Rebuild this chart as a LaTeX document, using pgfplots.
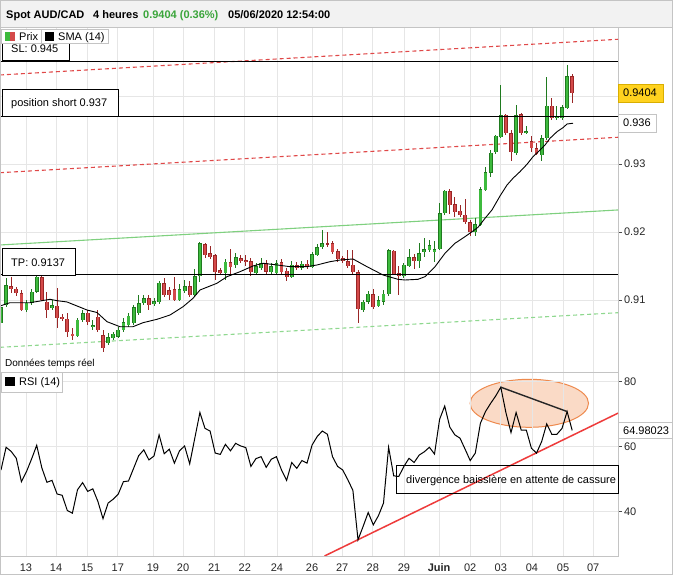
\documentclass[border=0pt]{standalone}
\usepackage{pgfplots}
\pgfplotsset{compat=1.18}
\usepackage{pgfplotstable}
\usepackage{fontspec}
\setmainfont{Liberation Sans}
\definecolor{gfill}{HTML}{3DBA3D}
\definecolor{gline}{HTML}{1F7A1F}
\definecolor{rfill}{HTML}{D44A4A}
\definecolor{rline}{HTML}{992626}
\definecolor{gridc}{HTML}{E6E6E6}
\definecolor{framec}{HTML}{C4C4C4}
\definecolor{hdr}{HTML}{F2F2F2}
\definecolor{tred}{HTML}{E04848}
\definecolor{tgreen}{HTML}{7FD07F}
\definecolor{ttgreen}{HTML}{8FD88F}
\definecolor{supred}{HTML}{EE3B3B}
\definecolor{elfill}{HTML}{FAD6C0}
\definecolor{elline}{HTML}{EE8A4E}
\definecolor{titlegreen}{HTML}{3AA53A}
\definecolor{yel}{HTML}{FFD21F}
\definecolor{yelline}{HTML}{D9AE00}

% i open high low close
\pgfplotstableread{
i o h l c
0 0.90662 0.90926 0.90632 0.90897
1 0.90926 0.91324 0.90897 0.91221
5 0.90853 0.91000 0.90824 0.90956
6 0.90956 0.91162 0.90926 0.91118
7 0.91118 0.91368 0.91103 0.91338
10 0.90882 0.91000 0.90853 0.90926
15 0.90471 0.90735 0.90456 0.90706
16 0.90706 0.90853 0.90676 0.90809
18 0.90603 0.90706 0.90559 0.90632
21 0.90368 0.90515 0.90338 0.90456
22 0.90441 0.90529 0.90412 0.90500
23 0.90456 0.90603 0.90441 0.90559
24 0.90559 0.90735 0.90529 0.90676
25 0.90632 0.90809 0.90603 0.90765
26 0.90662 0.90926 0.90632 0.90897
27 0.90809 0.91074 0.90779 0.90956
28 0.90956 0.91074 0.90926 0.91029
30 0.90941 0.91029 0.90912 0.90985
31 0.90971 0.91279 0.90941 0.91250
35 0.91000 0.91235 0.90985 0.91162
36 0.91132 0.91294 0.91103 0.91206
38 0.91074 0.91456 0.91059 0.91353
39 0.91353 0.91853 0.91265 0.91838
44 0.91397 0.91603 0.91294 0.91559
46 0.91515 0.91691 0.91471 0.91632
50 0.91397 0.91544 0.91382 0.91500
51 0.91471 0.91618 0.91441 0.91544
53 0.91412 0.91544 0.91382 0.91500
54 0.91397 0.91588 0.91368 0.91544
57 0.91338 0.91574 0.91324 0.91515
59 0.91471 0.91574 0.91441 0.91529
61 0.91485 0.91706 0.91471 0.91676
62 0.91662 0.91824 0.91647 0.91779
63 0.91779 0.92029 0.91750 0.91838
71 0.90853 0.91000 0.90824 0.90971
72 0.90971 0.91132 0.90941 0.91088
74 0.90912 0.91059 0.90897 0.91000
75 0.90971 0.91147 0.90926 0.91088
76 0.91088 0.91750 0.91059 0.91735
79 0.91353 0.91544 0.91324 0.91515
80 0.91500 0.91750 0.91485 0.91632
82 0.91574 0.91838 0.91471 0.91691
83 0.91706 0.91912 0.91632 0.91750
84 0.91735 0.91882 0.91706 0.91809
85 0.91706 0.91868 0.91559 0.91750
86 0.91750 0.92426 0.91735 0.92279
87 0.92279 0.92618 0.92250 0.92603
93 0.92000 0.92206 0.91941 0.92118
94 0.92103 0.92662 0.92088 0.92632
95 0.92618 0.92956 0.92603 0.92882
96 0.92868 0.93206 0.92809 0.93162
97 0.93176 0.93426 0.93147 0.93412
98 0.93397 0.94162 0.93382 0.93721
101 0.93162 0.93868 0.93132 0.93721
103 0.93456 0.93559 0.93441 0.93485
106 0.93132 0.93426 0.93044 0.93382
107 0.93382 0.94279 0.93353 0.93853
109 0.93676 0.93853 0.93647 0.93706
110 0.93676 0.93868 0.93647 0.93838
111 0.93824 0.94456 0.93809 0.94294
}\greencandles

\pgfplotstableread{
i o h l c
2 0.91206 0.91338 0.91103 0.91162
3 0.91162 0.91191 0.91059 0.91103
4 0.91103 0.91147 0.90838 0.90853
8 0.91338 0.91368 0.90985 0.91000
9 0.90971 0.91118 0.90735 0.90853
11 0.90912 0.91176 0.90588 0.90735
12 0.90750 0.90794 0.90691 0.90721
13 0.90721 0.90809 0.90456 0.90529
14 0.90500 0.90588 0.90412 0.90471
17 0.90809 0.90853 0.90632 0.90676
19 0.90750 0.90853 0.90529 0.90559
20 0.90485 0.90559 0.90235 0.90294
29 0.91029 0.91074 0.90853 0.90926
32 0.91250 0.91324 0.91044 0.91074
33 0.91147 0.91191 0.91000 0.91074
34 0.91162 0.91338 0.90985 0.91000
37 0.91206 0.91279 0.91044 0.91074
40 0.91824 0.91838 0.91618 0.91662
41 0.91691 0.91794 0.91603 0.91632
42 0.91662 0.91676 0.91294 0.91412
43 0.91441 0.91471 0.91382 0.91397
45 0.91559 0.91750 0.91353 0.91485
47 0.91618 0.91662 0.91544 0.91574
48 0.91588 0.91662 0.91500 0.91559
49 0.91574 0.91618 0.91353 0.91412
52 0.91544 0.91588 0.91368 0.91412
55 0.91559 0.91603 0.91368 0.91412
56 0.91426 0.91471 0.91279 0.91338
58 0.91515 0.91559 0.91441 0.91471
60 0.91529 0.91588 0.91456 0.91485
64 0.91838 0.92000 0.91779 0.91824
65 0.91838 0.91868 0.91676 0.91706
66 0.91721 0.91750 0.91559 0.91603
67 0.91618 0.91647 0.91544 0.91574
68 0.91574 0.91735 0.91471 0.91500
69 0.91515 0.91735 0.91382 0.91412
70 0.91412 0.91441 0.90662 0.90868
73 0.91088 0.91162 0.90868 0.90897
77 0.91721 0.91735 0.91368 0.91382
78 0.91397 0.91500 0.91074 0.91353
81 0.91632 0.91676 0.91456 0.91574
88 0.92603 0.92632 0.92265 0.92397
89 0.92412 0.92515 0.92221 0.92294
90 0.92309 0.92397 0.92221 0.92250
91 0.92250 0.92485 0.92118 0.92147
92 0.92147 0.92176 0.91941 0.92000
99 0.93721 0.93735 0.93426 0.93456
100 0.93456 0.93500 0.93044 0.93176
102 0.93735 0.93750 0.93426 0.93456
104 0.93338 0.93412 0.93176 0.93235
105 0.93235 0.93309 0.93132 0.93147
108 0.93853 0.93971 0.93647 0.93676
112 0.94294 0.94324 0.93897 0.94044
}\redcandles

\pgfplotstableread{
i v
0 52.8
1 59.8
2 58.5
3 56.4
4 49.2
5 52.3
6 56.2
7 60.4
8 53.5
9 49.0
10 49.6
11 45.4
12 45.0
13 40.3
14 39.5
15 46.7
16 48.9
17 46.2
18 47.0
19 43.1
20 37.8
21 42.6
22 43.8
23 45.4
24 49.2
25 49.4
26 53.3
27 57.2
28 59.0
29 55.9
30 57.1
31 63.6
32 57.8
33 59.2
34 54.9
35 58.7
36 60.2
37 54.7
38 62.6
39 70.5
40 65.6
41 64.8
42 58.0
43 57.6
44 60.7
45 58.7
46 61.0
47 60.2
48 59.7
49 53.9
50 56.3
51 56.9
52 53.6
53 56.1
54 56.9
55 52.8
56 49.6
57 55.1
58 53.3
59 55.7
60 54.9
61 60.5
62 63.1
63 64.8
64 63.8
65 56.9
66 53.9
67 52.8
68 49.8
69 46.5
70 31.3
71 35.4
72 39.7
73 35.9
74 38.7
75 42.6
76 59.8
77 51.0
78 50.8
79 53.9
80 56.4
81 55.1
82 57.4
83 58.4
84 59.8
85 57.7
86 68.4
87 72.5
88 66.0
89 63.6
90 62.6
91 59.2
92 55.7
93 58.0
94 67.2
95 70.8
96 73.3
97 75.6
98 78.3
99 70.5
100 64.3
101 70.5
102 65.1
103 65.1
104 59.5
105 58.0
106 61.5
107 67.0
108 63.8
109 63.8
110 65.6
111 70.8
112 64.98
}\rsi

\pgfplotsset{
  panel/.style={
    scale only axis, width=618bp,
    anchor=south west,
    xmin=-0.196, xmax=120.98,
    xtick={4.9,10.8,16.9,22.9,29.8,35.7,41.8,47.8,54.1,61.0,66.9,72.9,79.0,85.9,92.0,98.0,104.1,110.2,116.1},
    grid=major,
    major grid style={draw=gridc, line width=0.7bp},
    axis line style={draw=framec, line width=0.8bp},
    tick align=outside, major tick length=4bp,
    xtick style={draw=none},
    ytick style={draw=black!70, line width=0.7bp},
    yticklabel pos=right,
    ticklabel style={font=\fontsize{11bp}{13bp}\selectfont, text=black!85},
    yticklabel style={xshift=-1.5bp},
  },
  wick/.style={draw=none, mark=none, error bars/.cd, y dir=both, y explicit, error mark=none,
    error bar style={draw=#1, line width=1bp}},
  bodyout/.style={draw=none, mark=none, error bars/.cd, y dir=both, y explicit, error mark=none,
    error bar style={draw=#1, line width=3.8bp}},
  bodyin/.style={draw=none, mark=none, error bars/.cd, y dir=both, y explicit, error mark=none,
    error bar style={draw=#1, line width=2.2bp}},
}

\begin{document}
\begin{tikzpicture}[font=\fontsize{11bp}{13bp}\selectfont]
\path[fill=white, use as bounding box] (0bp,0bp) rectangle (673bp,575bp);
\fill[hdr] (0bp,548bp) rectangle (673bp,575bp);

% ellipse behind RSI
\fill[elfill, opacity=0.9] (529.3bp,171.7bp) ellipse [x radius=59.2bp, y radius=24bp];
\draw[elline, line width=1bp] (529.3bp,171.7bp) ellipse [x radius=59.2bp, y radius=24bp];

% ---------------- price panel
\begin{axis}[panel, at={(0bp,203bp)}, height=345bp,
  ymin=0.89941, ymax=0.950147,
  ytick={0.91,0.92,0.93,0.94}, yticklabels={0.91,0.92,0.93,{}},
  xticklabels={}]
\addplot[tred, line width=1.1bp, dash pattern=on 4bp off 3bp] coordinates {(-0.196,0.94309) (120.98,0.94834)};
\addplot[tred, line width=1.1bp, dash pattern=on 4bp off 3bp] coordinates {(-0.196,0.92872) (120.98,0.93393)};
\addplot[tgreen, line width=1.1bp] coordinates {(-0.196,0.91809) (120.98,0.92324)};
\addplot[ttgreen, line width=1.1bp, dash pattern=on 4bp off 3bp] coordinates {(-0.196,0.90304) (120.98,0.90813)};

% wicks
\addplot[wick=gline] table[x=i, y expr={(\thisrow{h}+\thisrow{l})/2}, y error expr={(\thisrow{h}-\thisrow{l})/2}] {\greencandles};
\addplot[wick=rline] table[x=i, y expr={(\thisrow{h}+\thisrow{l})/2}, y error expr={(\thisrow{h}-\thisrow{l})/2}] {\redcandles};
% bodies
\addplot[bodyout=gline] table[x=i, y expr={(\thisrow{o}+\thisrow{c})/2}, y error expr={max(abs(\thisrow{c}-\thisrow{o})/2,0.0001)}] {\greencandles};
\addplot[bodyin=gfill] table[x=i, y expr={(\thisrow{o}+\thisrow{c})/2}, y error expr={max(abs(\thisrow{c}-\thisrow{o})/2-0.00007,0)}] {\greencandles};
\addplot[bodyout=rline] table[x=i, y expr={(\thisrow{o}+\thisrow{c})/2}, y error expr={max(abs(\thisrow{c}-\thisrow{o})/2,0.0001)}] {\redcandles};
\addplot[bodyin=rfill] table[x=i, y expr={(\thisrow{o}+\thisrow{c})/2}, y error expr={max(abs(\thisrow{c}-\thisrow{o})/2-0.00007,0)}] {\redcandles};

% SMA(14)
\addplot[black, line width=0.9bp] coordinates {
(-0.2,0.90912) (1.76,0.90960) (5.69,0.90960) (9.61,0.91010) (10.98,0.90990) (12.94,0.90971)
(16.86,0.90853) (18.82,0.90816) (20.78,0.90681) (23.33,0.90607) (25.88,0.90607) (27.84,0.90666)
(30.59,0.90716) (33.14,0.90779) (35.69,0.90901) (37.65,0.91025) (39.02,0.91147) (42.35,0.91246)
(44.31,0.91343) (46.86,0.91416) (49.41,0.91500) (51.37,0.91540) (54.12,0.91515) (56.67,0.91490)
(60.0,0.91490) (61.96,0.91515) (64.51,0.91563) (66.47,0.91588) (69.02,0.91603) (71.76,0.91490)
(74.9,0.91368) (77.84,0.91304) (79.22,0.91294) (81.76,0.91304) (83.14,0.91343) (85.1,0.91490)
(87.06,0.91687) (89.02,0.91834) (90.98,0.91931) (92.35,0.92004) (93.53,0.92069) (94.9,0.92201)
(96.27,0.92324) (97.84,0.92529) (99.22,0.92691) (100.39,0.92790) (101.76,0.92887) (103.14,0.92996)
(104.31,0.93107) (105.69,0.93206) (106.67,0.93279) (107.65,0.93378) (109.02,0.93475) (110.2,0.93534)
(110.98,0.93588) (112.16,0.93599)};

% levels
\addplot[black, line width=1bp] coordinates {(-0.196,0.945) (120.98,0.945)};
\addplot[black, line width=1bp] coordinates {(-0.196,0.937) (120.98,0.937)};
\addplot[black, line width=1bp] coordinates {(-0.196,0.9137) (120.98,0.9137)};
\end{axis}

% ---------------- RSI panel
\begin{axis}[panel, at={(0bp,19bp)}, height=184bp,
  ymin=26.3, ymax=82.98,
  ytick={40,60,80}, yticklabels={40,60,80},
  xticklabels={13,14,15,17,19,20,21,22,24,26,27,28,29,\textbf{Juin},02,03,04,05,07}]
\addplot[supred, line width=1.5bp] coordinates {(63.43,26.3) (120.98,70.3)};
\addplot[black, line width=1bp] table[x=i, y=v] {\rsi};
\addplot[black!85, line width=1.4bp] coordinates {(98,78.3) (111,70.8)};
\end{axis}

% ---------------- annotations
\begin{scope}[x=1bp, y=1bp]
% SL box
\draw[black, line width=1bp, fill=white] (2,514) rectangle (69,544);
\node[anchor=base west, inner sep=0] at (11,522) {SL: 0.945};
% legend
\draw[framec, fill=white] (1.5,532) rectangle (108.3,546);
\draw[framec] (41,532) -- (41,546);
\fill[gfill] (5,534) rectangle (10,543.3);
\fill[rfill] (10,534) rectangle (15,543.3);
\node[anchor=base west, inner sep=0] at (19,534.8) {Prix};
\fill[black] (45,534) rectangle (54.3,543.3);
\node[anchor=base west, inner sep=0] at (58,534.8) {SMA (14)};
% position short
\draw[black, line width=1bp, fill=white] (2,458.7) rectangle (118.3,485.3);
\node[anchor=base west, inner sep=0] at (11,468) {position short 0.937};
% TP
\draw[black, line width=1bp, fill=white] (2,299.3) rectangle (75.7,326.7);
\node[anchor=base west, inner sep=0] at (11,309) {TP: 0.9137};
% Donnees temps reel
\node[anchor=base west, inner sep=0, font=\fontsize{10bp}{12bp}\selectfont] at (5,208.5) {Données temps réel};
% RSI legend
\draw[framec, fill=white] (1,183.3) rectangle (62,203.3);
\fill[black] (5,189) rectangle (15,197.7);
\node[anchor=base west, inner sep=0] at (19,189.2) {RSI (14)};
% divergence box
\draw[black, line width=1bp] (396.7,81.7) rectangle (618,109);
\node[anchor=base west, inner sep=0] at (406,91.5) {divergence baissière en attente de cassure};
% right labels
\draw[yelline, fill=yel] (618,473) rectangle (663.3,491);
\node[anchor=base west, inner sep=0] at (623,478) {0.9404};
\draw[framec, fill=white] (618,443) rectangle (656,461);
\node[anchor=base west, inner sep=0] at (623,448) {0.936};
\draw[framec, fill=white] (618,136.7) rectangle (672.5,153.3);
\node[anchor=base west, inner sep=0] at (623,141) {64.98023};
% header
\draw[framec] (0,548) -- (673,548);
\node[anchor=base west, inner sep=0, font=\fontsize{11bp}{13bp}\selectfont\bfseries] at (6,556) {Spot AUD/CAD};
\node[anchor=base west, inner sep=0, font=\fontsize{11bp}{13bp}\selectfont\bfseries] at (93,556) {4 heures};
\node[anchor=base west, inner sep=0, font=\fontsize{11bp}{13bp}\selectfont\bfseries, text=titlegreen] at (143,556) {0.9404 (0.36\%)};
\node[anchor=base west, inner sep=0, font=\fontsize{11bp}{13bp}\selectfont\bfseries] at (228,556) {05/06/2020 12:54:00};
\draw[framec] (0.5,0.5) rectangle (672.5,574.5);
\end{scope}
\end{tikzpicture}
\end{document}
